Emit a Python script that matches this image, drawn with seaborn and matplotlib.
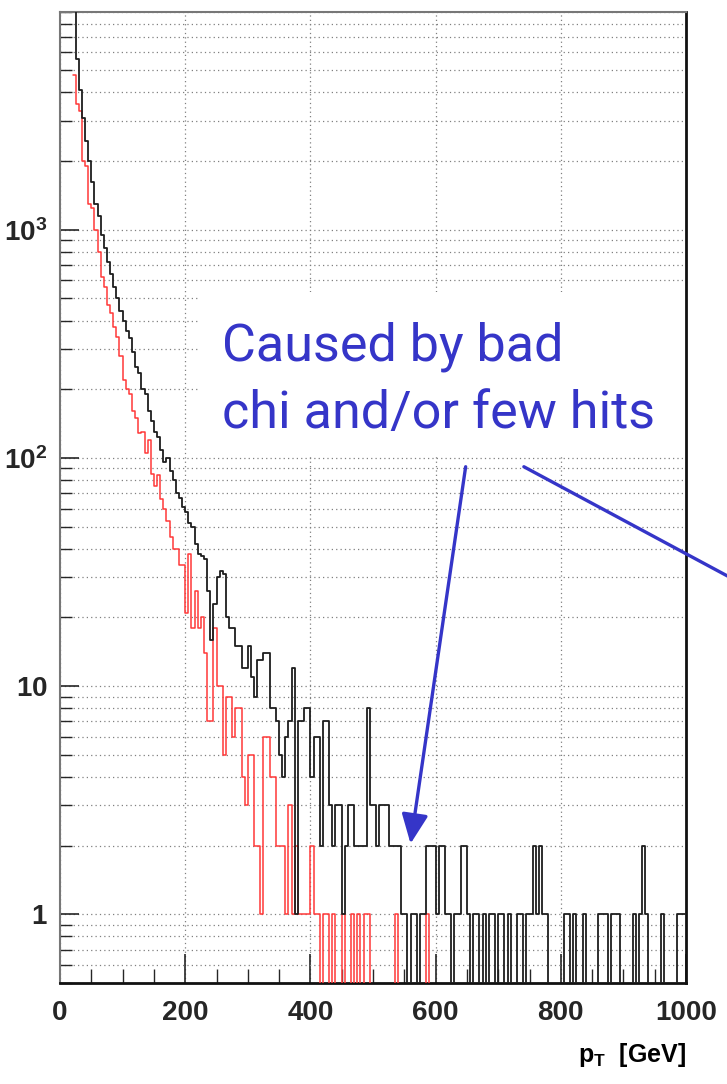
import numpy as np
import pandas as pd
import matplotlib
matplotlib.use("Agg")
import matplotlib.pyplot as plt
import seaborn as sns
from matplotlib.patches import Rectangle
from matplotlib.ticker import LogLocator, NullFormatter, MultipleLocator, FixedLocator

# ---------------- data ----------------
bin_width = 5          # GeV
pt_start = 20          # first filled bin edge (GeV)
pt_end = 1000

# black histogram: counts per 5 GeV bin, 20 .. 1000 GeV
black_counts = [
    11000, 5600, 4100, 3100, 2450, 2000, 1620, 1300, 1150, 950,
    830, 720, 640, 560, 500, 440, 400, 360, 335, 290,
    250, 235, 200, 190, 160, 145, 130, 124, 108, 96,
    100, 88, 80, 70, 67, 61, 58, 52, 50, 42,
    38, 37, 36, 26, 16, 23, 30, 32, 31, 20,
    18, 18, 15, 15, 12, 12, 15, 11, 9, 13,
    13, 14, 14, 8, 8, 7, 5, 4, 6, 7,
    12, 1, 7, 7, 8, 8, 4, 6, 6, 2,
    7, 7, 3, 2, 3, 3, 1, 2, 3, 3,
    2, 2, 2, 2, 8, 3, 3, 2, 3, 3,
    3, 2, 2, 2, 2, 1, 1, 0, 1, 1,
    0, 1, 1, 2, 2, 2, 1, 2, 2, 1,
    1, 0, 1, 1, 2, 2, 1, 0, 1, 1,
    0, 1, 0, 1, 1, 0, 1, 1, 0, 1,
    0, 0, 1, 1, 0, 1, 1, 2, 1, 2,
    1, 1, 0, 0, 0, 0, 0, 1, 1, 0,
    1, 0, 0, 1, 0, 0, 0, 0, 1, 1,
    1, 0, 1, 1, 1, 0, 0, 0, 0, 1,
    0, 1, 2, 1, 0, 0, 0, 0, 1, 0,
    0, 0, 0, 1, 1, 1,
]

# red histogram: counts per 5 GeV bin, 20 .. 600 GeV
red_counts = [
    4750, 3550, 3300, 2000, 1900, 1300, 1250, 1000, 800, 620,
    560, 470, 430, 375, 340, 280, 220, 200, 190, 160,
    150, 128, 130, 105, 120, 85, 75, 84, 66, 60,
    53, 45, 40, 40, 34, 34, 21, 38, 18, 26,
    18, 20, 14, 7, 7, 18, 10, 10, 5, 9,
    9, 6, 8, 8, 4, 3, 5, 5, 2, 2,
    1, 6, 6, 4, 4, 2, 2, 2, 1, 3,
    1, 2, 1, 1, 1, 1, 2, 1, 1, 0,
    1, 1, 0, 1, 0, 0, 1, 0, 0, 1,
    0, 1, 0, 1, 1, 0, 0, 0, 0, 0,
    0, 0, 0, 1, 0, 0, 0, 0, 0, 0,
    0, 0, 0, 1, 0, 0,
]

x_ticks = [0, 200, 400, 600, 800, 1000]
x_tick_labels = ["0", "200", "400", "600", "800", "1000"]
y_ticks = [1, 10, 100, 1000]
y_tick_labels = [r"$\mathbf{1}$", r"$\mathbf{10}$", r"$\mathbf{10^{2}}$", r"$\mathbf{10^{3}}$"]
x_label = r"$\mathbf{p}_{\mathbf{T}}$  [GeV]"
note_lines = ["Caused by bad", "chi and/or few hits"]

# ---------------- style ----------------
sns.set_style("ticks")
plt.rcParams["font.family"] = ["Liberation Sans", "DejaVu Sans"]
plt.rcParams["mathtext.fontset"] = "custom"
plt.rcParams["mathtext.rm"] = "Liberation Sans"
plt.rcParams["mathtext.bf"] = "Liberation Sans:bold"
plt.rcParams["mathtext.it"] = "Liberation Sans:italic"

fig = plt.figure(figsize=(7.27, 10.84), dpi=100)
ax = fig.add_axes([60 / 727, 101 / 1084, 626 / 727, 971 / 1084])
ax.set_axisbelow(True)


def hist_frame(counts):
    centers = pt_start + bin_width * (np.arange(len(counts)) + 0.5)
    return pd.DataFrame({"pt": centers, "n": np.asarray(counts, dtype=float)})


df_red = hist_frame(red_counts)
df_black = hist_frame(black_counts)

sns.histplot(data=df_red, x="pt", weights="n", binwidth=bin_width,
             binrange=(pt_start, pt_start + bin_width * len(red_counts)),
             element="step", fill=False, color="#ff3838", linewidth=1.1, ax=ax, zorder=3)
sns.histplot(data=df_black, x="pt", weights="n", binwidth=bin_width,
             binrange=(pt_start, pt_start + bin_width * len(black_counts)),
             element="step", fill=False, color="#1e1e1e", linewidth=1.3, ax=ax, zorder=4)

ax.set_yscale("log", nonpositive="clip")
ax.set_xlim(0, pt_end)
ax.set_ylim(0.5, 9000)

# ticks
ax.xaxis.set_major_locator(FixedLocator(x_ticks))
ax.set_xticklabels(x_tick_labels)
ax.xaxis.set_minor_locator(MultipleLocator(50))
ax.yaxis.set_major_locator(FixedLocator(y_ticks))
ax.set_yticklabels(y_tick_labels)
ax.yaxis.set_minor_locator(LogLocator(base=10, subs=np.arange(2, 10)))
ax.yaxis.set_minor_formatter(NullFormatter())

ax.tick_params(axis="x", which="major", direction="in", length=21, width=1.2,
               labelsize=20, pad=12, top=False)
ax.tick_params(axis="x", which="minor", direction="in", length=10, width=1.0, top=False)
ax.tick_params(axis="y", which="major", direction="in", length=14, width=1.2,
               labelsize=20, pad=9, right=False)
ax.tick_params(axis="y", which="minor", direction="in", length=8.5, width=1.0, right=False)
for lab in ax.get_xticklabels():
    lab.set_fontweight("bold")

ax.set_xlabel("")
ax.set_ylabel("")

# grid
ax.yaxis.grid(True, which="both", linestyle=(0, (1, 2.5)), color="#808080", linewidth=0.9)
ax.xaxis.grid(True, which="major", linestyle=(0, (1, 2.5)), color="#808080", linewidth=0.9)
ax.xaxis.grid(False, which="minor")

for side in ["left", "top"]:
    ax.spines[side].set_color("#777777")
    ax.spines[side].set_linewidth(1.5)
for side in ["right", "bottom"]:
    ax.spines[side].set_color("#111111")
    ax.spines[side].set_linewidth(2.0)

# x-axis label at bottom right
ax.text(1.0, -0.074, x_label, transform=ax.transAxes, ha="right", va="center",
        fontsize=18, fontweight="bold", color="black")

# white note box covering the grid
ax.add_patch(Rectangle((224, 103), 800, 430, facecolor="white", edgecolor="none",
                       zorder=1.5, clip_on=True))

blue = "#3535c8"
note_font = ["Roboto", "DejaVu Sans"]
ax.text(259, 268, note_lines[0], fontsize=37.5, color=blue, family=note_font,
        ha="left", va="baseline", zorder=5)
ax.text(259, 135, note_lines[1], fontsize=37.5, color=blue, family=note_font,
        ha="left", va="baseline", zorder=5)

ax.annotate("", xy=(560, 2.04), xytext=(648, 91.5),
            arrowprops=dict(arrowstyle="-|>,head_length=1.0,head_width=0.45",
                            mutation_scale=18, color=blue, lw=2.4,
                            shrinkA=0, shrinkB=0),
            annotation_clip=False, zorder=6)
ax.annotate("", xy=(1067, 30.3), xytext=(741, 91.5),
            arrowprops=dict(arrowstyle="-", color=blue, lw=2.4,
                            shrinkA=0, shrinkB=0),
            annotation_clip=False, zorder=6)

fig.savefig("out.png", dpi=100, facecolor="white")
